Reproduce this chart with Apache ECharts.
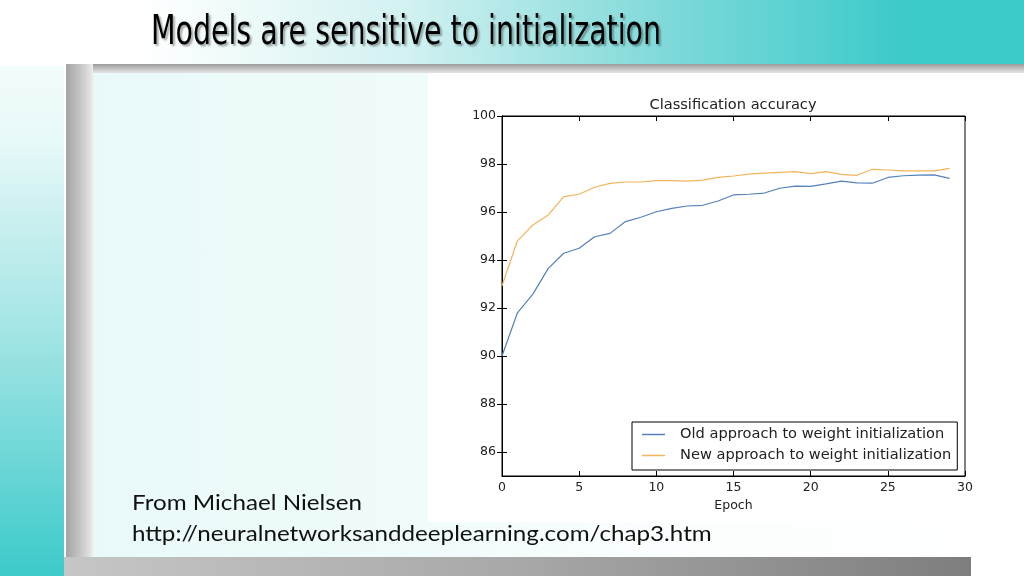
<!DOCTYPE html>
<html>
<head>
<meta charset="utf-8">
<script src="https://cdn.jsdelivr.net/npm/echarts@6/dist/echarts.min.js"></script>
<style>
  html, body { margin: 0; padding: 0; background: #fff; }
  #slide { position: relative; width: 1024px; height: 576px; overflow: hidden; background: #fff; }
  .deco { position: absolute; }
  #main { position: absolute; left: 0; top: 0; width: 1024px; height: 576px; }
</style>
</head>
<body>
<div id="slide">
  <!-- slide backdrop -->
  <div class="deco" style="left:0;top:0;width:64px;height:576px;background:linear-gradient(to bottom,#ffffff 0%,#e6f8f8 25%,#9ee3e3 60%,#3ccaca 100%)"></div>
  <div class="deco" style="left:0;top:0;width:1024px;height:66px;background:linear-gradient(to right,#ffffff 0%,#ffffff 14%,#d2f1f1 40%,#7fd9d9 65%,#3dcaca 88%,#3ccaca 100%)"></div>
  <div class="deco" style="left:66px;top:64px;width:958px;height:9px;background:linear-gradient(to bottom,#9a9a9a,#c8c8c8 60%,#e4e4e4)"></div>
  <div class="deco" style="left:66px;top:64px;width:27px;height:512px;background:linear-gradient(to right,#a4a4a4,#c4c4c4 50%,#dedede 85%,#eeeeee)"></div>
  <div class="deco" style="left:93px;top:73px;width:931px;height:484px;background:linear-gradient(to right,#e9f9f9 0%,#f0fbfb 35%,#fbfefe 60%,#ffffff 100%)"></div>
  <div class="deco" style="left:428px;top:73px;width:596px;height:449px;background:#ffffff"></div>
  <div class="deco" style="left:64px;top:557px;width:907px;height:19px;background:linear-gradient(to right,#c6c6c6,#a8a8a8 50%,#7e7e7e)"></div>
  <div id="main"></div>
</div>
<script>
// epochs on the x axis
var epochs = [0,1,2,3,4,5,6,7,8,9,10,11,12,13,14,15,16,17,18,19,20,21,22,23,24,25,26,27,28,29];
// accuracy (%)
var oldApproach = [90.0,91.8,92.58,93.65,94.28,94.49,94.97,95.11,95.6,95.78,96.01,96.15,96.25,96.28,96.46,
                   96.71,96.74,96.79,96.99,97.08,97.07,97.17,97.29,97.21,97.2,97.44,97.51,97.54,97.55,97.4];
var newApproach = [92.93,94.8,95.46,95.88,96.64,96.74,97.03,97.19,97.25,97.25,97.31,97.31,97.29,97.33,97.44,
                   97.5,97.58,97.62,97.65,97.68,97.6,97.68,97.57,97.53,97.78,97.75,97.71,97.71,97.71,97.82];
var yTicks = [86,88,90,92,94,96,98,100];
var seriesNames = ['Old approach to weight initialization', 'New approach to weight initialization'];

function pairs(vals) {
  return epochs.map(function (e, i) { return [e, vals[i]]; });
}

var myChart = echarts.init(document.getElementById('main'), null, { renderer: 'canvas' });

var tickFont = { fontFamily: 'DejaVu Sans', fontSize: 12.5, color: '#222' };

var option = {
  backgroundColor: 'transparent',
  animation: false,
  grid: { left: 502, right: 59, top: 116, bottom: 100, show: true, borderColor: '#000', borderWidth: 1, backgroundColor: 'transparent' },
  legend: {
    orient: 'vertical',
    left: 632,
    top: 422,
    data: seriesNames,
    icon: 'rect',
    backgroundColor: '#fff',
    borderColor: '#000',
    borderWidth: 1,
    borderRadius: 0,
    padding: [4, 6, 6, 10],
    itemGap: 4,
    itemWidth: 23,
    itemHeight: 1.5,
    textStyle: { fontFamily: 'DejaVu Sans', fontSize: 14.6, color: '#222', padding: [0, 0, 0, 10], lineHeight: 17 }
  },
  xAxis: [
    {
      type: 'value', min: 0, max: 30, interval: 5, position: 'bottom',
      name: 'Epoch', nameLocation: 'middle', nameGap: 21,
      nameTextStyle: { fontFamily: 'DejaVu Sans', fontSize: 12.5, color: '#222' },
      axisLine: { lineStyle: { color: '#000', width: 1 } },
      axisTick: { inside: true, length: 5, lineStyle: { color: '#000' } },
      axisLabel: Object.assign({ margin: 5 }, tickFont),
      splitLine: { show: false }
    },
    {
      type: 'value', min: 0, max: 30, interval: 5, position: 'top',
      axisLine: { lineStyle: { color: '#000', width: 1 } },
      axisTick: { inside: true, length: 5, lineStyle: { color: '#000' } },
      axisLabel: { show: false },
      splitLine: { show: false }
    }
  ],
  yAxis: [
    {
      type: 'value', min: 85, max: 100, position: 'left',
      axisLine: { show: true, lineStyle: { color: '#000', width: 1 } },
      axisTick: { show: true, inside: true, length: 5, customValues: yTicks, lineStyle: { color: '#000' } },
      axisLabel: Object.assign({ margin: 6, customValues: yTicks }, tickFont),
      splitLine: { show: false }
    },
    {
      type: 'value', min: 85, max: 100, position: 'right',
      axisLine: { show: true, lineStyle: { color: '#000', width: 1 } },
      axisTick: { show: true, inside: true, length: 5, customValues: yTicks, lineStyle: { color: '#000' } },
      axisLabel: { show: false },
      splitLine: { show: false }
    }
  ],
  series: [
    {
      name: seriesNames[0], type: 'line', data: pairs(oldApproach),
      symbol: 'none', color: '#5581b8', lineStyle: { width: 1.2, color: '#5581b8' }
    },
    {
      name: seriesNames[1], type: 'line', data: pairs(newApproach),
      symbol: 'none', color: '#f2b45a', lineStyle: { width: 1.2, color: '#f2b45a' }
    }
  ],
  graphic: [
    {
      type: 'text', x: 733, y: 105,
      style: { text: 'Classification accuracy', fontFamily: 'DejaVu Sans', fontSize: 14.6, fill: '#222', align: 'center', verticalAlign: 'middle' }
    },
    {
      type: 'text', x: 151, y: 34, scaleX: 0.79, originX: 0,
      style: {
        text: 'Models are sensitive to initialization', fontFamily: 'DejaVu Sans Condensed', fontSize: 40,
        fill: '#000', align: 'left', verticalAlign: 'middle',
        textShadowColor: 'rgba(0,0,0,0.35)', textShadowOffsetX: 2, textShadowOffsetY: 2, textShadowBlur: 2
      }
    },
    {
      type: 'text', x: 132, y: 503, scaleX: 1.1, originX: 0,
      style: { text: 'From Michael Nielsen', fontFamily: 'Lato', fontSize: 22, fill: '#111', align: 'left', verticalAlign: 'middle' }
    },
    {
      type: 'text', x: 132, y: 534, scaleX: 1.1, originX: 0,
      style: { text: 'http://neuralnetworksanddeeplearning.com/chap3.htm', fontFamily: 'Lato', fontSize: 22, fill: '#111', align: 'left', verticalAlign: 'middle' }
    }
  ]
};

myChart.setOption(option);
</script>
</body>
</html>
